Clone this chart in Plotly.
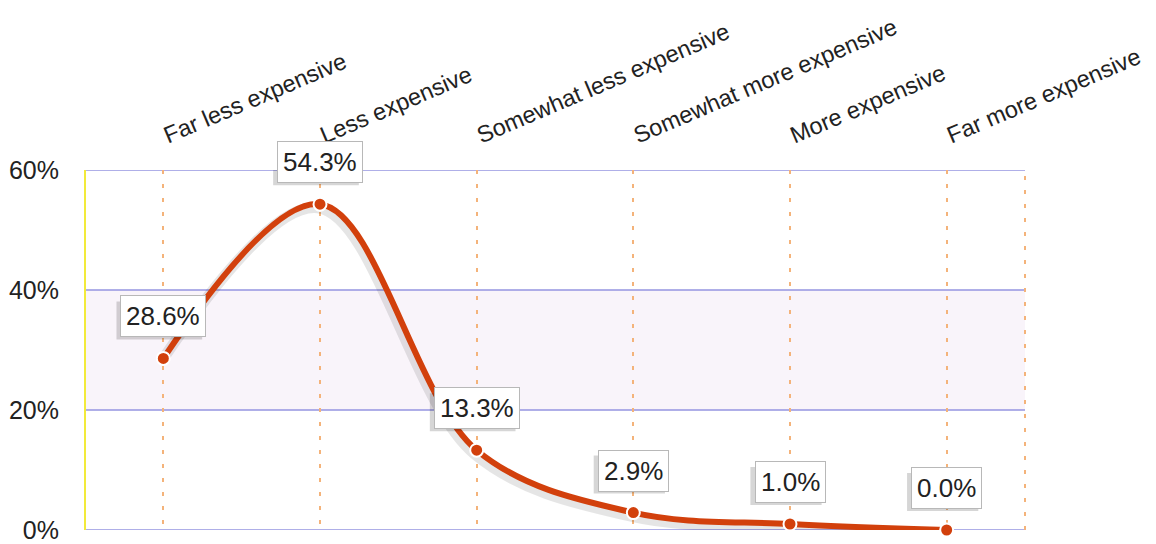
import plotly.graph_objects as go

categories = ["Far less expensive", "Less expensive", "Somewhat less expensive",
              "Somewhat more expensive", "More expensive", "Far more expensive"]
values = [28.6, 54.3, 13.3, 2.9, 1.0, 0.0]
y_ticks = [0, 20, 40, 60]
y_tick_labels = ["0%", "20%", "40%", "60%"]
band = [20, 40]

x_idx = list(range(len(categories)))
line_color = "#d2400c"
grid_color = "#9595e0"
dot_color = "#f4b37a"
font_family = "Liberation Sans, Arial, sans-serif"
label_size = 26

fig = go.Figure()

# soft shadow of the line
fig.add_trace(go.Scatter(
    x=[i - 0.015 for i in x_idx], y=[v - 0.6 for v in values],
    mode="lines", line=dict(color="rgba(0,0,0,0.10)", width=11, shape="spline", smoothing=1.0),
    hoverinfo="skip", showlegend=False, cliponaxis=False))

fig.add_trace(go.Scatter(
    x=x_idx, y=values, mode="lines+markers",
    line=dict(color=line_color, width=6, shape="spline", smoothing=1.0),
    marker=dict(color=line_color, size=13, line=dict(color="white", width=2)),
    showlegend=False, cliponaxis=False))

shapes = []
shapes.append(dict(type="rect", xref="paper", yref="y", x0=0, x1=1, y0=band[0], y1=band[1],
                   fillcolor="#f9f4fa", line=dict(width=0), layer="below"))
for t in y_ticks:
    shapes.append(dict(type="line", xref="paper", yref="y", x0=0, x1=1, y0=t, y1=t,
                       line=dict(color=grid_color, width=1.5), layer="below"))
shapes.append(dict(type="line", xref="paper", yref="paper", x0=1, x1=1, y0=0, y1=1,
                   line=dict(color=dot_color, width=2, dash="4px,10px"), layer="below"))
shapes.append(dict(type="line", xref="paper", yref="paper", x0=0, x1=0, y0=0, y1=1,
                   line=dict(color="#f2ea3a", width=2), layer="below"))


def text_width(s, size):
    w = 0.0
    for ch in s:
        if ch.isdigit():
            w += 0.556
        elif ch == ".":
            w += 0.278
        elif ch == "%":
            w += 0.889
        else:
            w += 0.556
    return w * size


annotations = []
for i, v in zip(x_idx, values):
    txt = f"{v:.1f}%"
    half = text_width(txt, label_size) / 2 + 6
    # box shadow (offset down-left) anchored on the point
    shapes.append(dict(type="rect", xref="x", yref="y", xsizemode="pixel", ysizemode="pixel",
                       xanchor=i, yanchor=v, x0=-half - 4, x1=half - 4, y0=19, y1=57,
                       fillcolor="rgba(0,0,0,0.16)", line=dict(width=0), layer="above"))
    annotations.append(dict(x=i, y=v, xref="x", yref="y", text=txt, showarrow=False,
                            yshift=42, bgcolor="white",
                            bordercolor="#b8b8b8", borderwidth=1, borderpad=5,
                            font=dict(size=label_size, color="#222222", family=font_family)))

fig.update_layout(
    width=1156, height=544,
    margin=dict(l=85, r=131, t=170, b=14),
    paper_bgcolor="white", plot_bgcolor="white",
    font=dict(family=font_family, color="#222222"),
    shapes=shapes, annotations=annotations,
    xaxis=dict(range=[-0.5, 5.5], side="top", tickmode="array", tickvals=x_idx,
               ticktext=categories, tickangle=-23, tickfont=dict(size=23.5, color="#222222"),
               showgrid=True, gridcolor=dot_color, gridwidth=2, griddash="4px,10px",
               ticks="outside", ticklen=15, tickcolor="rgba(0,0,0,0)",
               zeroline=False, showline=False, fixedrange=True, automargin=False),
    yaxis=dict(range=[0, 60], tickmode="array", tickvals=y_ticks, ticktext=y_tick_labels,
               tickfont=dict(size=25, color="#222222"), showgrid=False, zeroline=False,
               ticks="outside", ticklen=20, tickcolor="rgba(0,0,0,0)", showline=False,
               fixedrange=True, automargin=False),
)

fig.write_html("out.html")
